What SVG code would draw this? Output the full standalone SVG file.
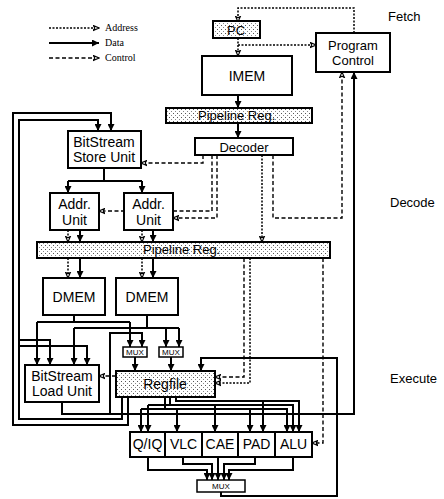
<svg xmlns="http://www.w3.org/2000/svg" width="444" height="499" viewBox="0 0 444 499">
<style>
.box{fill:#fff;stroke:#000;stroke-width:2}
.stip{fill:url(#dots);stroke:#000;stroke-width:2}
.t{font-family:"Liberation Sans",Arial,sans-serif;font-size:14px;text-anchor:middle;fill:#000}
.t13{font-size:13px}
.mux{font-family:"Liberation Sans",Arial,sans-serif;font-size:8px;text-anchor:middle}
.stage{font-family:"Liberation Sans",Arial,sans-serif;font-size:13px;fill:#000}
.leg{font-family:"Liberation Serif","Times New Roman",serif;font-size:10px;fill:#000}
.data{fill:none;stroke:#000;stroke-width:2;marker-end:url(#ad)}
.dl{fill:none;stroke:#000;stroke-width:2}
.addr{fill:none;stroke:#000;stroke-width:1.5;stroke-dasharray:2 1.5;marker-end:url(#ah)}
.ctrl{fill:none;stroke:#000;stroke-width:1.4;stroke-dasharray:4 2.5;marker-end:url(#ah)}
</style>
<defs>
<pattern id="dots" width="4" height="4" patternUnits="userSpaceOnUse"><rect width="4" height="4" fill="#fff"/><rect x="1" y="1" width="1" height="1" fill="#555"/><rect x="3" y="3" width="1" height="1" fill="#888"/></pattern>
<marker id="ad" viewBox="0 0 10 10" refX="10" refY="5" markerWidth="7" markerHeight="7" markerUnits="userSpaceOnUse" orient="auto"><path d="M0,0 L10,5 L0,10 z" fill="#000"/></marker>
<marker id="ah" viewBox="0 0 10 10" refX="9" refY="5" markerWidth="7" markerHeight="7" markerUnits="userSpaceOnUse" orient="auto"><path d="M1,1.5 L9,5 L1,8.5 L3,5 z" fill="#fff" stroke="#000" stroke-width="1.6"/></marker>
</defs>
<rect width="444" height="499" fill="#fff"/>

<g id="legend">
<path class="addr" d="M49,28 H99"/>
<path class="data" d="M49,43 H99"/>
<path class="ctrl" d="M49,58 H99"/>
<text class="leg" x="105" y="31">Address</text>
<text class="leg" x="105" y="46">Data</text>
<text class="leg" x="105" y="61">Control</text>
</g>

<g id="stages">
<text class="stage" x="388" y="21">Fetch</text>
<text class="stage" x="390" y="207">Decode</text>
<text class="stage" x="390" y="383">Execute</text>
</g>

<g id="connectors">
<path class="addr" d="M354,33 V8 H238 V22"/>
<path class="addr" d="M238,38 V56"/>
<path class="addr" d="M238,45 H316"/>
<path class="data" d="M238,95 V108"/>
<path class="data" d="M238,123 V138"/>
<path class="ctrl" d="M203,155 V163 H141"/>
<path class="ctrl" d="M212,155 V211 H99"/>
<path class="ctrl" d="M217,155 V218 H173"/>
<path class="addr" d="M262,155 V242"/>
<path class="ctrl" d="M273,155 V218 H342 V72"/>
<path class="dl" d="M104,168 V181 M68,181 H142"/>
<path class="data" d="M68,181 V193"/>
<path class="data" d="M142,181 V193"/>
<path class="addr" d="M68,230 V242"/>
<path class="data" d="M80,230 V242"/>
<path class="addr" d="M142,230 V242"/>
<path class="data" d="M153,230 V242"/>
<path class="addr" d="M68,258 V278"/>
<path class="data" d="M80,258 V278"/>
<path class="addr" d="M142,258 V278"/>
<path class="data" d="M153,258 V278"/>
<path class="ctrl" d="M244,258 V377 H215"/>
<path class="addr" d="M250,258 V383 H215"/>
<path class="ctrl" d="M323,258 V443 H312"/>
<path class="dl" d="M74,315 V322 M37,322 H130"/>
<path class="data" d="M37,322 V365"/>
<path class="data" d="M130,322 V347"/>
<path class="dl" d="M147,315 V328 M74,328 H179"/>
<path class="data" d="M74,328 V365"/>
<path class="data" d="M166,328 V347"/>
<path class="data" d="M179,328 V347"/>
<path class="data" d="M110,414 V333 H142 V347"/>
<path class="data" d="M62,402 V414 H354 V72"/>
<path class="data" d="M128,397 V425 H13 V113 H111 V131"/>
<path class="data" d="M122,397 V419 H19 V120 H98 V131"/>
<path class="data" d="M19,340 H50 V365"/>
<path class="data" d="M19,346 H87 V365"/>
<path class="ctrl" d="M116,376 H99"/>
<path class="data" d="M135,357 V371"/>
<path class="data" d="M171,357 V371"/>
<path class="data" d="M221,492 V496 H337 V358 H201 V371"/>
<path class="data" d="M176,397 V401 H299 V432"/>
<path class="data" d="M263,401 V432"/>
<path class="dl" d="M170,397 V405"/>
<path class="data" d="M148,405 H293 V432"/>
<path class="data" d="M148,405 V432"/>
<path class="data" d="M215,405 V432"/>
<path class="dl" d="M165,397 V409"/>
<path class="data" d="M141,409 H287 V432"/>
<path class="data" d="M141,409 V432"/>
<path class="data" d="M177,409 V432"/>
<path class="data" d="M250,409 V432"/>
<path class="data" d="M148,457 V470 H207 V480"/>
<path class="data" d="M183,457 V464 H212 V480"/>
<path class="data" d="M218,457 V480"/>
<path class="data" d="M255,457 V464 H224 V480"/>
<path class="data" d="M293,457 V470 H229 V480"/>
</g>

<g id="pc"><rect class="stip" x="213" y="21" width="47" height="17"/><text class="t t13" x="236" y="35">PC</text></g>
<g id="imem"><rect class="box" x="202" y="56" width="90" height="39"/><text class="t" x="247" y="81">IMEM</text></g>
<g id="program-control"><rect class="box" x="316" y="33" width="74" height="39"/><text class="t t13" x="353" y="50">Program</text><text class="t t13" x="353" y="65">Control</text></g>
<g id="pipeline-reg-1"><rect class="stip" x="166" y="108" width="146" height="15"/><text class="t t13" x="198" y="120" style="text-anchor:start">Pipeline Reg.</text></g>
<g id="decoder"><rect class="box" x="195" y="138" width="98" height="17"/><text class="t t13" x="244" y="152">Decoder</text></g>
<g id="bitstream-store"><rect class="box" x="68" y="131" width="73" height="37"/><text class="t" x="104" y="147">BitStream</text><text class="t" x="104" y="162">Store Unit</text></g>
<g id="addr-unit-1"><rect class="box" x="50" y="193" width="49" height="37"/><text class="t" x="74.5" y="209">Addr.</text><text class="t" x="74.5" y="225">Unit</text></g>
<g id="addr-unit-2"><rect class="box" x="124" y="193" width="49" height="37"/><text class="t" x="148.5" y="209">Addr.</text><text class="t" x="148.5" y="225">Unit</text></g>
<g id="pipeline-reg-2"><rect class="stip" x="37" y="242" width="293" height="16"/><text class="t t13" x="143" y="254" style="text-anchor:start">Pipeline Reg.</text></g>
<g id="dmem-1"><rect class="box" x="43" y="278" width="62" height="37"/><text class="t" x="74" y="302">DMEM</text></g>
<g id="dmem-2"><rect class="box" x="116" y="278" width="62" height="37"/><text class="t" x="147" y="302">DMEM</text></g>
<g id="mux-1"><rect class="box" x="123" y="347" width="24" height="10" style="stroke-width:1.5"/><text class="mux" x="135" y="355">MUX</text></g>
<g id="mux-2"><rect class="box" x="159" y="347" width="24" height="10" style="stroke-width:1.5"/><text class="mux" x="171" y="355">MUX</text></g>
<g id="bitstream-load"><rect class="box" x="25" y="365" width="74" height="37"/><text class="t" x="62" y="381">BitStream</text><text class="t" x="62" y="396">Load Unit</text></g>
<g id="regfile"><rect class="stip" x="116" y="371" width="99" height="26"/><text class="t" x="165" y="389">Regfile</text></g>
<g id="qiq"><rect class="box" x="130" y="432" width="35" height="25"/><text class="t" x="147.5" y="449">Q/IQ</text></g>
<g id="vlc"><rect class="box" x="165" y="432" width="37" height="25"/><text class="t" x="183.5" y="449">VLC</text></g>
<g id="cae"><rect class="box" x="202" y="432" width="36" height="25"/><text class="t" x="220" y="449">CAE</text></g>
<g id="pad"><rect class="box" x="238" y="432" width="37" height="25"/><text class="t" x="256.5" y="449">PAD</text></g>
<g id="alu"><rect class="box" x="275" y="432" width="37" height="25"/><text class="t" x="293.5" y="449">ALU</text></g>
<g id="mux-out"><rect class="box" x="197" y="480" width="48" height="12" style="stroke-width:1.5"/><text class="mux" x="221" y="489">MUX</text></g>
</svg>
